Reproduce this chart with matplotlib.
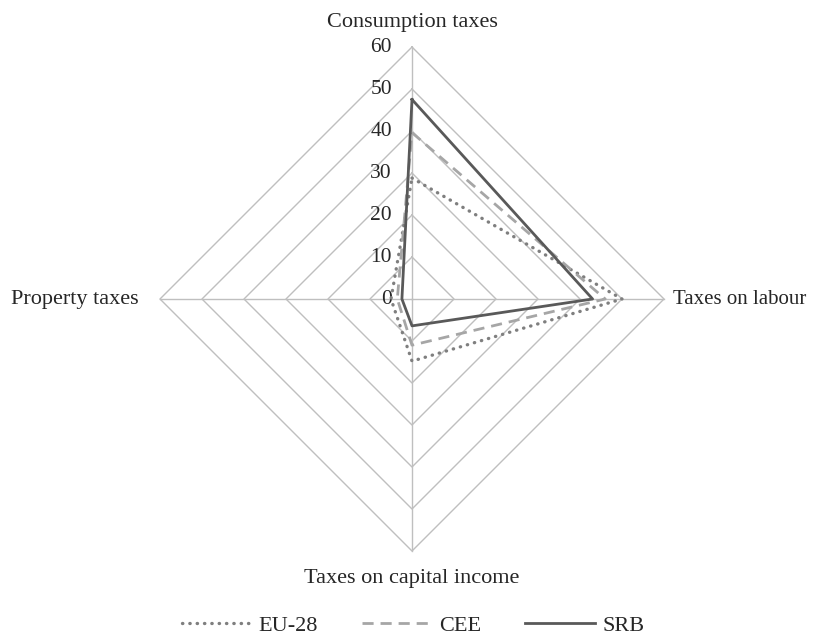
import numpy as np
import matplotlib.pyplot as plt
from matplotlib.lines import Line2D

plt.rcParams["font.family"] = ["Liberation Serif", "DejaVu Serif"]

# axes clockwise from top
categories = ["Consumption taxes", "Taxes on labour", "Taxes on capital income", "Property taxes"]
eu28 = [28.8, 50.0, 14.8, 5.0]
cee = [39.6, 46.0, 11.0, 3.5]
srb = [47.5, 43.0, 6.4, 2.4]
ticks = [0, 10, 20, 30, 40, 50, 60]

# direction of each category (top, right, bottom, left)
dirs = np.array([[0, 1], [1, 0], [0, -1], [-1, 0]], dtype=float)


def to_xy(vals):
    v = np.asarray(vals, dtype=float)[:, None] * dirs
    v = np.vstack([v, v[:1]])
    return v[:, 0], v[:, 1]


fig = plt.figure(figsize=(8.13, 6.37), dpi=100)
ax = fig.add_axes([0, 0, 1, 1])
scale = 4.2  # px per unit
ax.set_xlim(-412 / scale, (813 - 412) / scale)
ax.set_ylim(-338 / scale, 299 / scale)
ax.set_aspect("equal")
ax.axis("off")

text_c = "#262626"
grid_c = "#bfbfbf"
for t in ticks[1:]:
    gx, gy = to_xy([t] * 4)
    ax.plot(gx, gy, color=grid_c, lw=1.0, zorder=1)
for d in dirs:
    ax.plot([0, d[0] * ticks[-1]], [0, d[1] * ticks[-1]], color=grid_c, lw=1.0, zorder=1)

for t in ticks:
    ax.text(-4.8, t, str(t), ha="right", va="center", fontsize=15.5, color=text_c)

x, y = to_xy(eu28)
ax.plot(x, y, color="#7f7f7f", lw=2.4, linestyle=(0, (0.1, 2.1)),
        dash_capstyle="round", zorder=3)
x, y = to_xy(cee)
ax.plot(x, y, color="#a6a6a6", lw=2.0, linestyle=(0, (4, 2.5)), zorder=3)
x, y = to_xy(srb)
ax.plot(x, y, color="#595959", lw=2.0, zorder=4)

r = ticks[-1]
ax.text(0, r + 5.8, categories[0], ha="center", va="center", fontsize=16, color=text_c)
ax.text(r + 2.2, 0, categories[1], ha="left", va="center", fontsize=15, color=text_c)
ax.text(0, -r - 6.6, categories[2], ha="center", va="center", fontsize=16, color=text_c)
ax.text(-r - 5.2, 0, categories[3], ha="right", va="center", fontsize=16, color=text_c)

handles = [
    Line2D([0], [0], color="#7f7f7f", lw=2.4, linestyle=(0, (0.1, 2.1)),
           dash_capstyle="round", label="EU-28"),
    Line2D([0], [0], color="#a6a6a6", lw=2.0, linestyle=(0, (4, 2.5)), label="CEE"),
    Line2D([0], [0], color="#595959", lw=2.0, label="SRB"),
]
leg = fig.legend(handles=handles, loc="center", bbox_to_anchor=(0.508, 0.018), ncol=3,
                 frameon=False, fontsize=16, handlelength=3.15, columnspacing=2.0,
                 handletextpad=0.3, borderpad=0.0)
for t in leg.get_texts():
    t.set_color(text_c)

fig.savefig("out.png", dpi=100)
